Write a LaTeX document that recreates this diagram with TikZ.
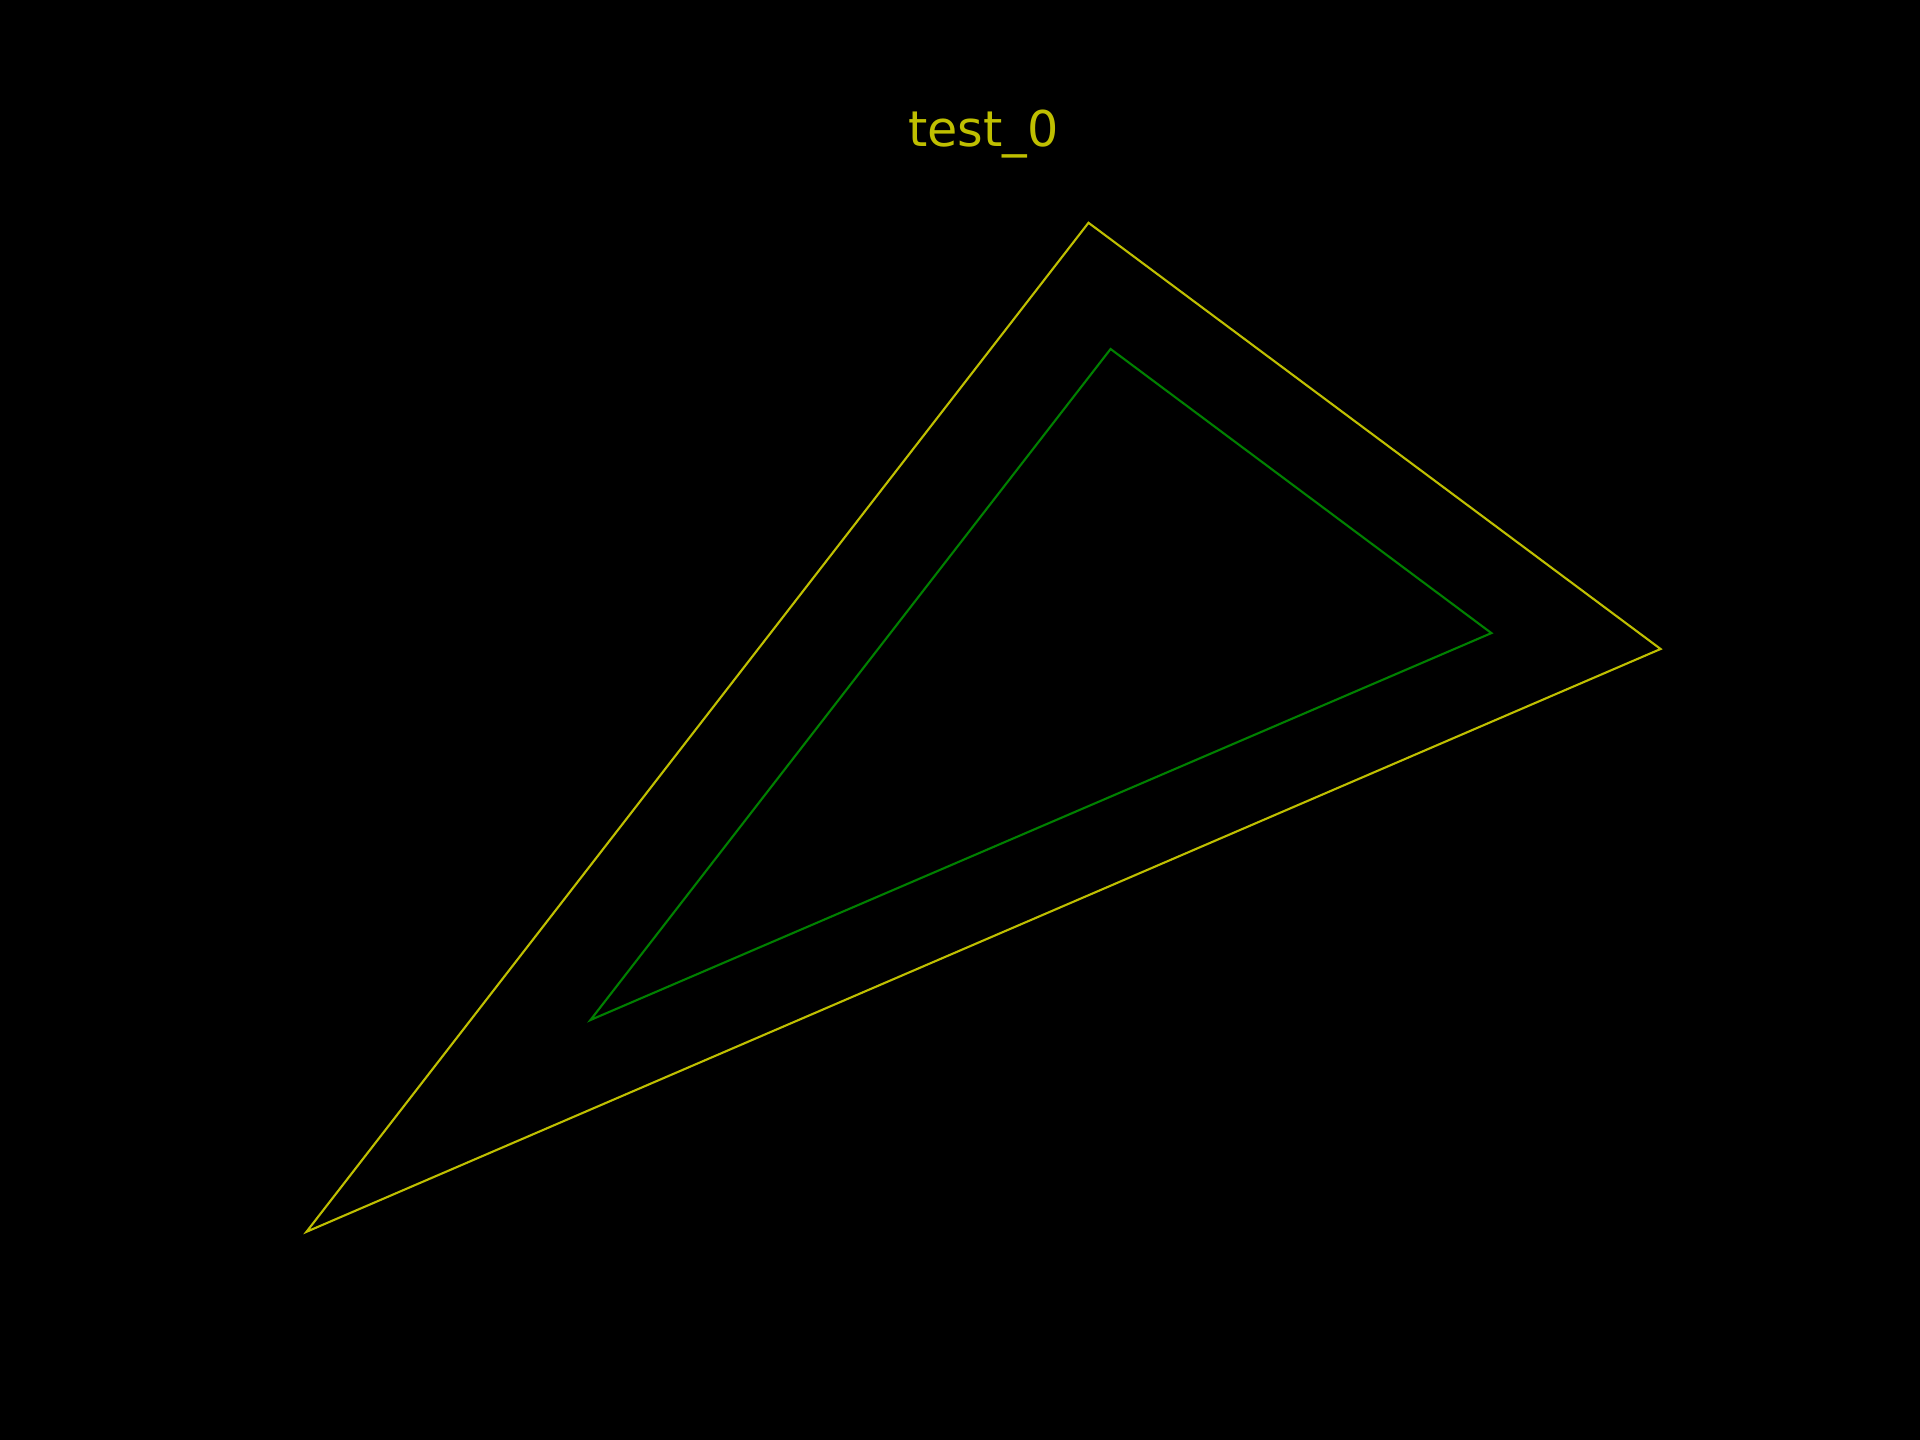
\documentclass[tikz,border=0pt]{standalone}
\usepackage{fontspec}
\setmainfont{DejaVu Sans}
\usetikzlibrary{positioning}
\definecolor{olivey}{rgb}{0.75,0.75,0}
\definecolor{darkg}{rgb}{0,0.5,0}
\tikzset{tri/.style={line width=0.6pt, line join=miter}}

\begin{document}
\begin{tikzpicture}[x=0.01cm, y=-0.01cm]
%% background
\fill[black] (0,0) rectangle (1920,1440);
\useasboundingbox (0,0) rectangle (1920,1440);
%% title
\node[anchor=base, text=olivey, inner sep=0pt, font=\fontsize{14}{17}\selectfont] (title) at (983.5,146.7) {test\_0};
%% outer triangle
\draw[tri, olivey] (1088.5,222.8) -- (1660.6,649.0) -- (306.5,1231.8) -- cycle;
%% inner triangle
\draw[tri, darkg] (1110.6,349.0) -- (1491.4,633.1) -- (590.5,1020.0) -- cycle;
\end{tikzpicture}
\end{document}
